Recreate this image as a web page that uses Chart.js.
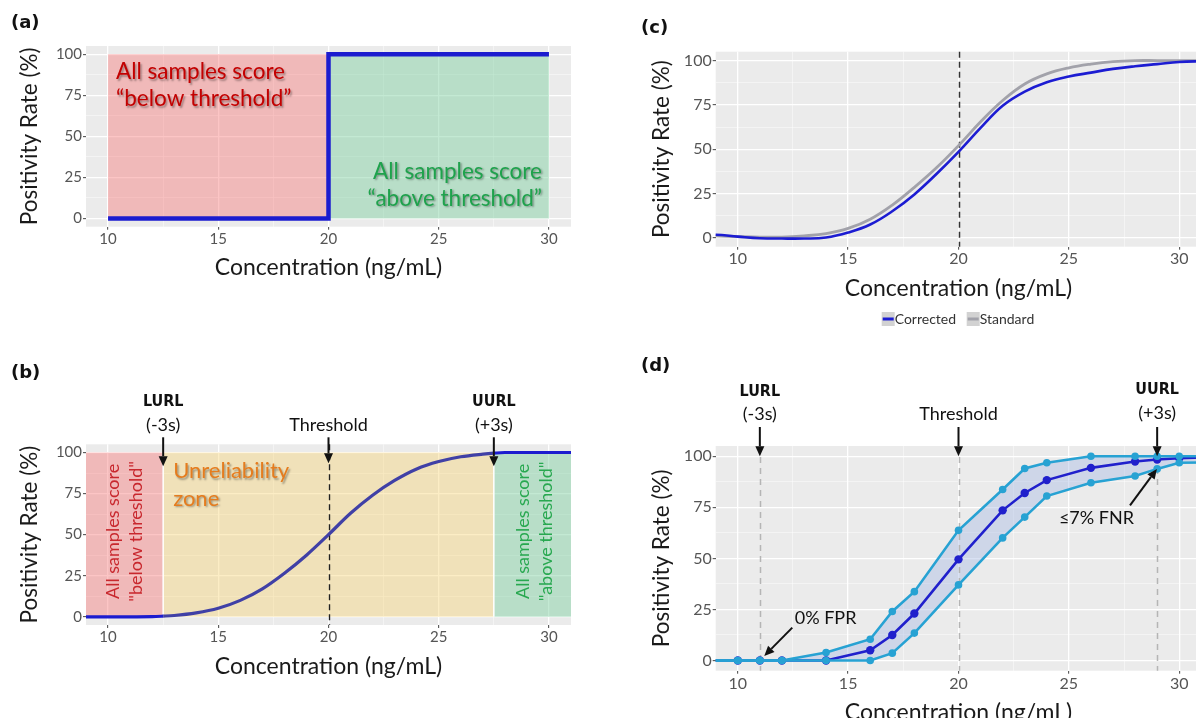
<!DOCTYPE html>
<html><head><meta charset="utf-8">
<script src="https://cdn.jsdelivr.net/npm/chart.js@4.4.1/dist/chart.umd.min.js"></script>
<style>
html,body{margin:0;padding:0;background:#fff;overflow:hidden;}
#page{position:relative;width:1196px;height:718px;overflow:hidden;background:#fff;}
.panel{position:absolute;}
.lab{position:absolute;font:bold 18px "DejaVu Sans",sans-serif;line-height:18px;color:#111;}
</style></head><body>
<div id="page">
  <div class="panel" style="left:0;top:0;"><canvas id="ca" width="600" height="290"></canvas></div>
  <div class="panel" style="left:0;top:350px;"><canvas id="cb" width="600" height="368"></canvas></div>
  <div class="panel" style="left:600px;top:0;"><canvas id="cc" width="640" height="340"></canvas></div>
  <div class="panel" style="left:600px;top:350px;"><canvas id="cd" width="640" height="400"></canvas></div>
  <div class="lab" style="left:11px;top:13px;">(a)</div>
  <div class="lab" style="left:11px;top:363px;">(b)</div>
  <div class="lab" style="left:641px;top:18px;">(c)</div>
  <div class="lab" style="left:641px;top:356px;">(d)</div>
</div>
<script>
// ---------- shared axis ticks ----------
const xMajorTicks = [10, 15, 20, 25, 30];
const xMinorTicks = [12.5, 17.5, 22.5, 27.5];
const yMajorTicks = [0, 25, 50, 75, 100];
const yMinorTicks = [12.5, 37.5, 62.5, 87.5];
const xTitle = 'Concentration (ng/mL)';
const yTitle = 'Positivity Rate (%)';

// ---------- (a) ideal step ----------
const aConc = [10, 20, 20, 30];
const aRate = [0, 0, 100, 100];
const aZoneFrom = [10, 20];
const aZoneTo = [20, 30];

// ---------- (b) sigmoid with unreliability zone ----------
const bConc = [8, 9, 10, 11, 12, 12.5, 13, 14, 15, 16, 17, 18, 19, 20, 21, 22, 23, 24, 25, 26, 27, 27.5, 28, 29, 30, 31, 32];
const bRate = [0, 0, 0, 0, 0.1, 0.4, 0.8, 2.4, 5.2, 10, 17, 26.5, 37.5, 50, 63, 74, 83, 90, 94.5, 97.4, 99, 99.6, 100, 100, 100, 100, 100];
const bZoneFrom = [9, 12.5, 27.5];
const bZoneTo = [12.5, 27.5, 31];
const bMarkers = [12.5, 20, 27.5];   // LURL, Threshold, UURL

// ---------- (c) corrected vs standard ----------
const cConc = [8, 9, 10, 11, 12, 13, 14, 15, 16, 17, 18, 19, 20, 21, 22, 23, 24, 25, 26, 27, 28, 29, 30, 31, 32];
const cCorrected = [1.7, 1.7, 0.7, -0.2, -0.4, -0.4, 0.2, 3, 7.5, 15, 24.5, 36, 48.5, 62, 74.5, 82.5, 87.8, 91, 93.2, 95.3, 96.8, 98, 99.2, 99.6, 99.8];
const cStandard = [1.3, 1.1, 0.7, 0.4, 0.4, 1.1, 2.4, 5.3, 10.5, 18.5, 28.5, 39.5, 52, 65.5, 77.5, 86.8, 92.5, 95.9, 98, 99.4, 100, 100, 100, 100, 100];
const cThreshold = 20;

// ---------- (d) observed positivity with interval ----------
const dConc = [8, 10, 11, 12, 14, 16, 17, 18, 20, 22, 23, 24, 26, 28, 29, 30, 32];
const dUpper = [0, 0, 0, 0, 3.9, 10.4, 24, 33.7, 63.7, 83.7, 94, 96.8, 100, 100, 100, 100, 100];
const dMean  = [0, 0, 0, 0, 0, 5, 12.5, 23, 49.5, 73.5, 82, 88.3, 94.3, 97.4, 98.4, 99, 99.7];
const dLower = [0, 0, 0, 0, 0, 0, 3.6, 13.4, 37, 60, 70.2, 80.5, 87, 90.3, 93.8, 96.8, 97];
const dMarkers = [11, 20, 29];   // LURL, Threshold, UURL

// ---------- helpers ----------
const F = 'Lato, "DejaVu Sans", sans-serif';
const BG = '#ebebeb';
const pts = (xs, ys) => xs.map((x, i) => ({x: x, y: ys[i]}));

function axisScales(o) {
  const allX = xMajorTicks.concat(xMinorTicks).sort((a, b) => a - b);
  const allY = yMajorTicks.concat(yMinorTicks).sort((a, b) => a - b);
  const majX = v => xMajorTicks.includes(v);
  const majY = v => yMajorTicks.includes(v);
  const grid = (maj) => ({
    color: c => (c.tick && maj(c.tick.value)) ? '#ffffff' : 'rgba(255,255,255,0.75)',
    lineWidth: c => (c.tick && maj(c.tick.value)) ? 1.3 : 0.6,
    drawTicks: true, tickLength: 3, tickWidth: 1,
    tickColor: c => (c.tick && maj(c.tick.value)) ? '#444' : 'rgba(0,0,0,0)'
  });
  return {
    x: {
      type: 'linear', min: 9, max: 31,
      afterBuildTicks: s => { s.ticks = allX.map(v => ({value: v})); },
      afterFit: s => { s.height = o.xh; },
      ticks: {autoSkip: false, maxRotation: 0, padding: o.xtp, color: '#555',
              font: {family: F, size: o.ts}, callback: v => majX(v) ? String(v) : ''},
      grid: grid(majX), border: {display: false},
      title: {display: true, text: xTitle, color: '#1a1a1a', font: {family: F, size: 23},
              padding: {top: 0, bottom: o.xtitle}}
    },
    y: {
      type: 'linear', min: -5, max: 105,
      afterBuildTicks: s => { s.ticks = allY.map(v => ({value: v})); },
      afterFit: s => { s.width = o.yw; },
      ticks: {autoSkip: false, padding: 1, color: '#555',
              font: {family: F, size: o.ts}, callback: v => majY(v) ? String(v) : ''},
      grid: grid(majY), border: {display: false},
      title: {display: true, text: yTitle, color: '#1a1a1a', font: {family: F, size: 22.5},
              padding: {top: o.ytitle, bottom: 0}}
    }
  };
}

const bgPlugin = {
  id: 'panelBg',
  beforeDraw(chart) {
    const {ctx, chartArea: a} = chart;
    ctx.save(); ctx.fillStyle = BG;
    ctx.fillRect(a.left, a.top, a.right - a.left, a.bottom - a.top);
    ctx.restore();
  }
};

function zones(chart, from, to, colors) {
  const {ctx, scales: {x, y}} = chart;
  ctx.save();
  for (let i = 0; i < from.length; i++) {
    const x0 = x.getPixelForValue(from[i]), x1 = x.getPixelForValue(to[i]);
    const y0 = y.getPixelForValue(100), y1 = y.getPixelForValue(0);
    ctx.fillStyle = colors[i];
    ctx.fillRect(x0, y0, x1 - x0, y1 - y0);
  }
  ctx.restore();
}
function vdash(chart, xv, color, w, dash) {
  const {ctx, chartArea: a, scales: {x}} = chart;
  const px = Math.round(x.getPixelForValue(xv)) + 0.5;
  ctx.save(); ctx.strokeStyle = color; ctx.lineWidth = w; ctx.setLineDash(dash);
  ctx.beginPath(); ctx.moveTo(px, a.top); ctx.lineTo(px, a.bottom); ctx.stroke(); ctx.restore();
}
function arrow(ctx, x1, y1, x2, y2) {
  const ang = Math.atan2(y2 - y1, x2 - x1), L = 10, W = 4.5;
  const bx = x2 - L * Math.cos(ang), by = y2 - L * Math.sin(ang);
  ctx.save(); ctx.strokeStyle = '#111'; ctx.fillStyle = '#111'; ctx.lineWidth = 2;
  ctx.beginPath(); ctx.moveTo(x1, y1); ctx.lineTo(bx, by); ctx.stroke();
  ctx.beginPath(); ctx.moveTo(x2, y2);
  ctx.lineTo(bx + W * Math.sin(ang), by - W * Math.cos(ang));
  ctx.lineTo(bx - W * Math.sin(ang), by + W * Math.cos(ang));
  ctx.closePath(); ctx.fill(); ctx.restore();
}
function txt(ctx, s, x, y, o) {
  ctx.save();
  ctx.font = o.font; ctx.fillStyle = o.color; ctx.textAlign = o.align || 'left'; ctx.textBaseline = 'middle';
  if (o.shadow) { ctx.shadowColor = 'rgba(0,0,0,0.35)'; ctx.shadowOffsetX = 1.5; ctx.shadowOffsetY = 1.5; ctx.shadowBlur = 2; }
  if (o.rot) { ctx.translate(x, y); ctx.rotate(o.rot); ctx.fillText(s, 0, 0); }
  else ctx.fillText(s, x, y);
  ctx.restore();
}
const BOLD = 'bold 16px "DejaVu Sans Condensed", "DejaVu Sans", sans-serif';
const REG17 = '18px ' + F;

Chart.register(bgPlugin);
Chart.defaults.font.family = F;

const base = (pad) => ({
  responsive: false, maintainAspectRatio: false, animation: false,
  layout: {padding: pad},
  plugins: {legend: {display: false}, tooltip: {enabled: false}},
  elements: {point: {radius: 0}}
});

// ---------- chart (a) ----------
new Chart(document.getElementById('ca'), {
  type: 'line',
  data: {datasets: [{data: pts(aConc, aRate), borderColor: '#1c1ccf', borderWidth: 4.5,
    tension: 0, borderJoinStyle: 'miter', borderCapStyle: 'butt', pointRadius: 0}]},
  options: Object.assign(base({left: 0, top: 46, right: 29, bottom: 0}), {
    scales: axisScales({xh: 63.3, yw: 86, ts: 15, xtp: 0, xtitle: 8.4, ytitle: 16.4})
  }),
  plugins: [{
    id: 'aDecor',
    beforeDatasetsDraw(chart) {
      zones(chart, aZoneFrom, aZoneTo, ['rgba(247,117,117,0.42)', 'rgba(122,207,157,0.45)']);
    },
    afterDatasetsDraw(chart) {
      const {ctx, scales: {x, y}} = chart;
      const f = '22.5px ' + F;
      txt(ctx, 'All samples score', x.getPixelForValue(10) + 8, y.getPixelForValue(100) + 18, {font: f, color: '#c30000', shadow: true});
      txt(ctx, '\u201Cbelow threshold\u201D', x.getPixelForValue(10) + 8, y.getPixelForValue(100) + 45, {font: f, color: '#c30000', shadow: true});
      txt(ctx, 'All samples score', x.getPixelForValue(30) - 7, y.getPixelForValue(0) - 47, {font: f, color: '#1ea24c', shadow: true, align: 'right'});
      txt(ctx, '\u201Cabove threshold\u201D', x.getPixelForValue(30) - 7, y.getPixelForValue(0) - 20, {font: f, color: '#1ea24c', shadow: true, align: 'right'});
    }
  }]
});

// ---------- chart (b) ----------
new Chart(document.getElementById('cb'), {
  type: 'line',
  data: {datasets: [{data: pts(bConc, bRate), borderWidth: 3.2, tension: 0.4, cubicInterpolationMode: 'monotone', pointRadius: 0,
    borderColor: '#1c1ccf',
    segment: {borderColor: c => (c.p0.parsed.x >= bZoneFrom[1] && c.p1.parsed.x <= bZoneTo[1]) ? '#4040a6' : '#1c1ccf'}}]},
  options: Object.assign(base({left: 0, top: 94.3, right: 29, bottom: 0}), {
    scales: axisScales({xh: 93, yw: 86, ts: 15, xtp: 0.5, xtitle: 37.4, ytitle: 16.4})
  }),
  plugins: [{
    id: 'bDecor',
    beforeDatasetsDraw(chart) {
      const {ctx, chartArea: a, scales: {x, y}} = chart;
      zones(chart, bZoneFrom, bZoneTo, ['rgba(247,117,117,0.42)', 'rgba(247,212,117,0.42)', 'rgba(122,207,157,0.45)']);
      ctx.save(); ctx.strokeStyle = '#ffffff'; ctx.lineWidth = 1.5;
      [bZoneTo[0], bZoneTo[1]].forEach(v => {
        const px = x.getPixelForValue(v);
        ctx.beginPath(); ctx.moveTo(px, y.getPixelForValue(100)); ctx.lineTo(px, y.getPixelForValue(0)); ctx.stroke();
      });
      ctx.restore();
      vdash(chart, bMarkers[1], '#222', 1.4, [6, 4]);
      const r = -Math.PI / 2;
      const yc = y.getPixelForValue(52);
      const x0 = x.getPixelForValue(bZoneFrom[0]);
      const x2 = x.getPixelForValue(bZoneFrom[2]);
      const f = '18px ' + F;
      txt(ctx, 'All samples score', x0 + 27, yc, {font: f, color: '#c8282e', align: 'center', rot: r});
      txt(ctx, '"below threshold"', x0 + 50, yc, {font: f, color: '#c8282e', align: 'center', rot: r});
      txt(ctx, 'All samples score', x2 + 29, yc, {font: f, color: '#28a850', align: 'center', rot: r});
      txt(ctx, '"above threshold"', x2 + 52.5, yc, {font: f, color: '#28a850', align: 'center', rot: r});
      const xu = x.getPixelForValue(bZoneFrom[1]) + 10;
      txt(ctx, 'Unreliability', xu, y.getPixelForValue(100) + 18.5, {font: '22px ' + F, color: '#e57c1e', shadow: true});
      txt(ctx, 'zone', xu, y.getPixelForValue(100) + 46, {font: '22px ' + F, color: '#e57c1e', shadow: true});
    },
    afterDatasetsDraw(chart) {
      const {ctx, chartArea: a, scales: {x, y}} = chart;
      const t = a.top;
      const xl = x.getPixelForValue(bMarkers[0]), xt = x.getPixelForValue(bMarkers[1]), xr = x.getPixelForValue(bMarkers[2]);
      txt(ctx, 'LURL', xl, t - 42, {font: BOLD, color: '#111', align: 'center'});
      txt(ctx, '(-3s)', xl, t - 19.5, {font: REG17, color: '#111', align: 'center'});
      txt(ctx, 'Threshold', xt, t - 19.5, {font: REG17, color: '#111', align: 'center'});
      txt(ctx, 'UURL', xr, t - 42, {font: BOLD, color: '#111', align: 'center'});
      txt(ctx, '(+3s)', xr, t - 19.5, {font: REG17, color: '#111', align: 'center'});
      arrow(ctx, xl, t - 7, xl, t + 22);
      arrow(ctx, xt, t - 7, xt, t + 19);
      arrow(ctx, xr, t - 7, xr, t + 22);
    }
  }]
});

// ---------- chart (c) ----------
new Chart(document.getElementById('cc'), {
  type: 'line',
  data: {datasets: [
    {label: 'Corrected', data: pts(cConc, cCorrected), borderColor: '#1c1cd2', borderWidth: 2.6, tension: 0.4, pointRadius: 0},
    {label: 'Standard', data: pts(cConc, cStandard), borderColor: '#a2a2aa', borderWidth: 2.8, tension: 0.4, pointRadius: 0}
  ]},
  options: Object.assign(base({left: 0, top: 51.7, right: 38.7, bottom: 0}), {
    scales: axisScales({xh: 93.3, yw: 115.7, ts: 16, xtp: 0, xtitle: 37.4, ytitle: 48.4})
  }),
  plugins: [{
    id: 'cDecor',
    beforeDatasetsDraw(chart) { vdash(chart, cThreshold, '#333', 1.5, [6, 4]); },
    afterDraw(chart) {
      const {ctx} = chart;
      const items = [{t: 'Corrected', c: '#1c1cd2', x: 281.7}, {t: 'Standard', c: '#a2a2aa', x: 366.7}];
      const yc = 319;
      items.forEach(it => {
        ctx.save();
        ctx.fillStyle = '#d2d2d2'; ctx.fillRect(it.x, yc - 7, 13, 14);
        ctx.strokeStyle = it.c; ctx.lineWidth = 3;
        ctx.beginPath(); ctx.moveTo(it.x + 1, yc); ctx.lineTo(it.x + 12, yc); ctx.stroke();
        ctx.restore();
        txt(ctx, it.t, it.x + 13, yc, {font: '14px ' + F, color: '#333'});
      });
    }
  }]
});

// ---------- chart (d) ----------
const lightBlue = '#27a2d3';
const darkBlue = '#2020cc';
new Chart(document.getElementById('cd'), {
  type: 'line',
  data: {datasets: [
    {label: 'Upper', data: pts(dConc, dUpper), borderColor: lightBlue, backgroundColor: 'rgba(170,188,228,0.45)',
     fill: 1, borderWidth: 2.6, pointRadius: 3.8, pointBackgroundColor: lightBlue, pointBorderWidth: 0, tension: 0, order: 0},
    {label: 'Lower', data: pts(dConc, dLower), borderColor: lightBlue, fill: false,
     borderWidth: 2.6, pointRadius: 3.8, pointBackgroundColor: lightBlue, pointBorderWidth: 0, tension: 0, order: 0},
    {label: 'Mean', data: pts(dConc, dMean), borderColor: darkBlue, fill: false,
     borderWidth: 2.6, pointRadius: 4.2, pointBackgroundColor: darkBlue, pointBorderWidth: 0, tension: 0, order: 1}
  ]},
  options: Object.assign(base({left: 0, top: 96, right: 38.7, bottom: 0}), {
    scales: axisScales({xh: 79.3, yw: 115.7, ts: 16, xtp: 1, xtitle: 23.7, ytitle: 48.4}),
    plugins: {legend: {display: false}, tooltip: {enabled: false}, filler: {drawTime: 'beforeDatasetsDraw'}}
  }),
  plugins: [{
    id: 'dDecor',
    beforeDatasetsDraw(chart) { dMarkers.forEach(v => vdash(chart, v, '#b5b5b5', 1.5, [6, 5])); },
    afterDatasetsDraw(chart) {
      const {ctx, chartArea: a, scales: {x, y}} = chart;
      const t = a.top;
      const xl = x.getPixelForValue(dMarkers[0]), xt = x.getPixelForValue(dMarkers[1]), xr = x.getPixelForValue(dMarkers[2]);
      txt(ctx, 'LURL', xl, t - 54.5, {font: BOLD, color: '#111', align: 'center'});
      txt(ctx, '(-3s)', xl, t - 31.5, {font: REG17, color: '#111', align: 'center'});
      txt(ctx, 'Threshold', xt, t - 31.5, {font: REG17, color: '#111', align: 'center'});
      txt(ctx, 'UURL', xr, t - 56, {font: BOLD, color: '#111', align: 'center'});
      txt(ctx, '(+3s)', xr, t - 33, {font: REG17, color: '#111', align: 'center'});
      const y100 = y.getPixelForValue(100);
      arrow(ctx, xl, t - 19, xl, y100);
      arrow(ctx, xt, t - 19, xt, y100);
      arrow(ctx, xr, t - 19, xr, y100);
      txt(ctx, '0% FPR', x.getPixelForValue(12.58), y.getPixelForValue(20.5), {font: REG17, color: '#111'});
      arrow(ctx, x.getPixelForValue(12.47), y.getPixelForValue(16.1), x.getPixelForValue(11.2), y.getPixelForValue(2.2));
      txt(ctx, '\u22647% FNR', x.getPixelForValue(24.55), y.getPixelForValue(69.9), {font: REG17, color: '#111'});
      arrow(ctx, x.getPixelForValue(27.77), y.getPixelForValue(75.9), x.getPixelForValue(28.99), y.getPixelForValue(93.8));
    }
  }]
});
</script>
</body></html>
